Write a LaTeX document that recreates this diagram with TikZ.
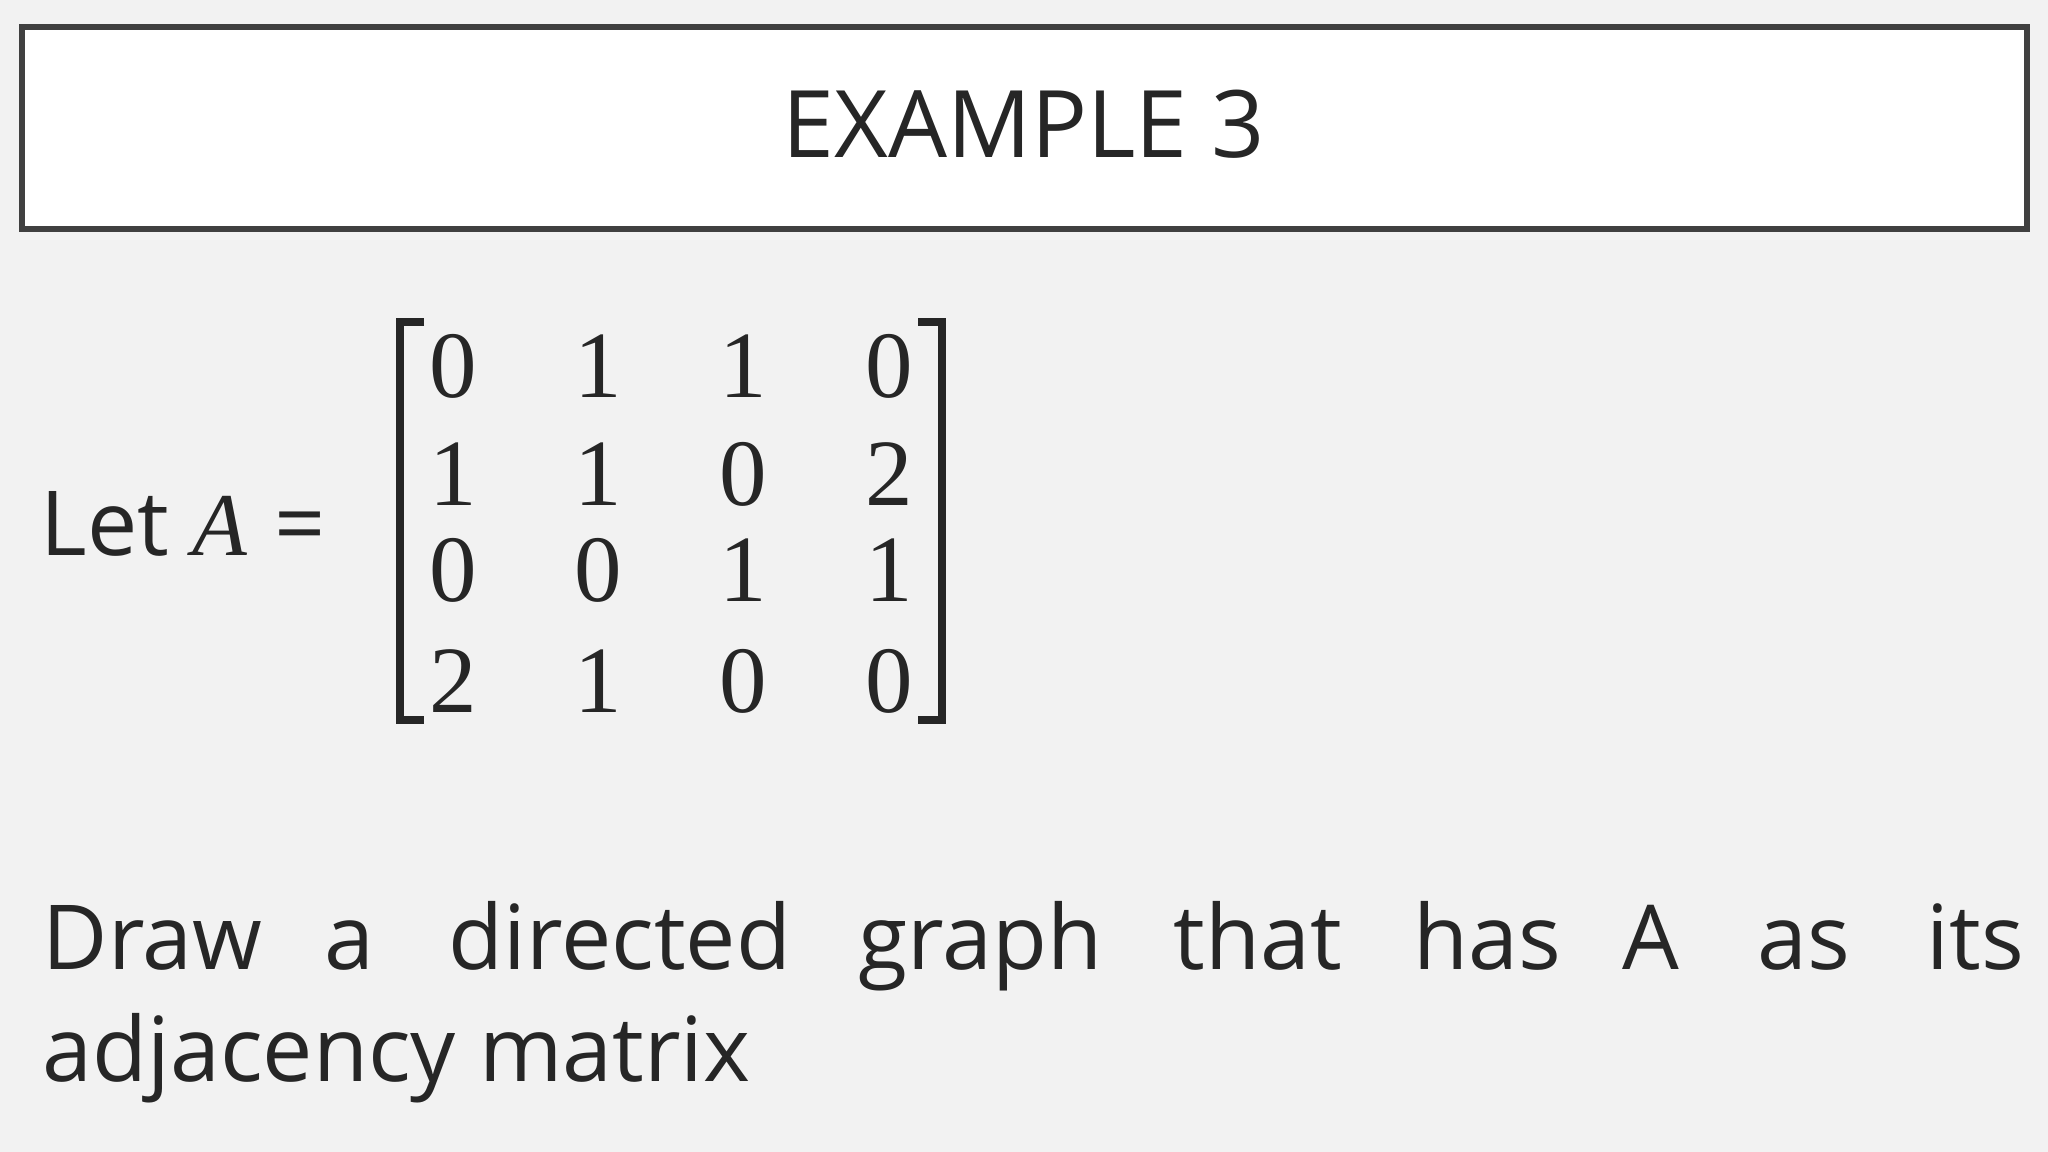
\documentclass[tikz,border=0pt]{standalone}
\usepackage{fontspec}
\setmainfont{Open Sans}
\newfontfamily\mathserif{Liberation Serif}
\definecolor{bg}{HTML}{F2F2F2}
\definecolor{ink}{HTML}{262626}
\definecolor{frame}{HTML}{404040}
\begin{document}
\begin{tikzpicture}[x=0.01cm,y=-0.01cm,
  txt/.style={inner sep=0pt,anchor=base west,text=ink,font=\fontsize{25.5}{30}\selectfont},
  dig/.style={inner sep=0pt,anchor=base,text=ink,font=\mathserif\fontsize{27}{30}\selectfont},
  brk/.style={draw=ink,line width=2.2pt}]
\fill[bg] (0,0) rectangle (2048,1152);
\useasboundingbox (0,0) rectangle (2048,1152);
\draw[frame,line width=1.6pt,fill=white] (22,27) rectangle (2027,229);
\node[txt,anchor=base] (t) at (1024,158) {\fontsize{26.5}{30}\selectfont EXAMPLE 3};
\node[txt] (let) at (40,555) {Let \mathserif\itshape A};
\node[txt] (eq) at (274,555) {=};
\draw[brk] (424,322) -- (400,322) -- (400,720) -- (424,720);
\draw[brk] (918,322) -- (942,322) -- (942,720) -- (918,720);
\foreach \v [count=\i] in {0,1,1,0}{\node[dig] (a1\i) at ({453+(\i-1)*145.3},398) {\v};}
\foreach \v [count=\i] in {1,1,0,2}{\node[dig] (a2\i) at ({453+(\i-1)*145.3},505) {\v};}
\foreach \v [count=\i] in {0,0,1,1}{\node[dig] (a3\i) at ({453+(\i-1)*145.3},601) {\v};}
\foreach \v [count=\i] in {2,1,0,0}{\node[dig] (a4\i) at ({453+(\i-1)*145.3},712) {\v};}
\foreach \w/\x [count=\k] in {Draw/42,a/324,directed/448,graph/858,that/1173,has/1413,A/1622,as/1757,its/1926}
  {\node[txt] (w\k) at (\x,969) {\w};}
\node[txt] (l2) at (42,1081) {adjacency matrix};
\end{tikzpicture}
\end{document}
